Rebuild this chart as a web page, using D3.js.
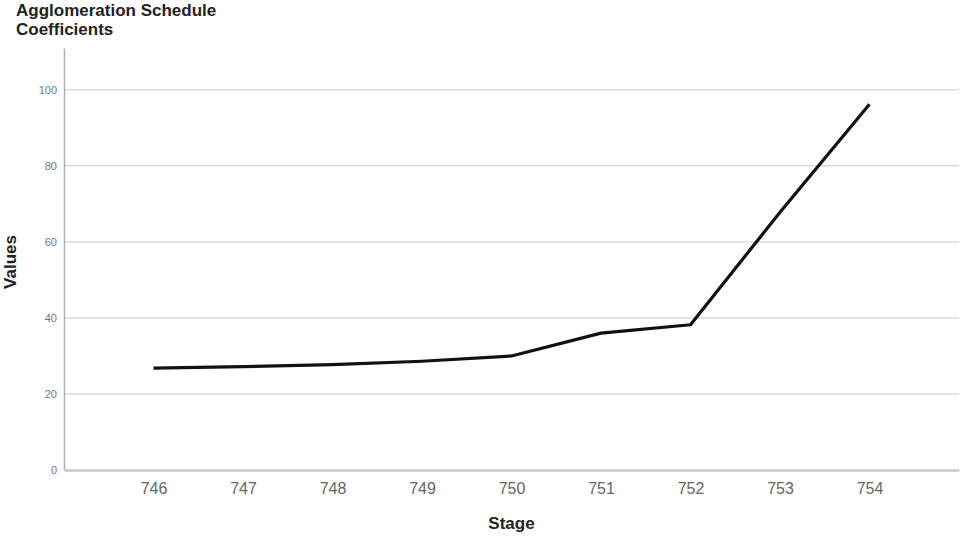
<!DOCTYPE html>
<html>
<head>
<meta charset="utf-8">
<script src="https://cdn.jsdelivr.net/npm/d3@7"></script>
<style>
  body { margin: 0; background: #fff; }
  svg { display: block; font-family: "Liberation Sans", Arial, sans-serif; }
</style>
</head>
<body>
<svg id="chart" width="961" height="539"></svg>
<script>
// chart data
const stages = ['746', '747', '748', '749', '750', '751', '752', '753', '754'];
const coefficients = [26.8, 27.2, 27.7, 28.6, 30.0, 36.0, 38.2, 67.8, 96.2];
const yTicks = [0, 20, 40, 60, 80, 100];

const svg = d3.select('#chart');
const margin = {top: 48, right: 2, bottom: 69, left: 64};
const width = 961 - margin.left - margin.right;
const height = 539 - margin.top - margin.bottom;

const x = d3.scalePoint()
    .domain(stages)
    .range([0, width])
    .padding(1);

const y = d3.scaleLinear()
    .domain([0, 111])
    .range([height, 0]);

const g = svg.append('g')
    .attr('transform', `translate(${margin.left},${margin.top})`);

// gridlines
g.append('g')
    .selectAll('line')
    .data(yTicks.filter(d => d > 0))
    .join('line')
    .attr('x1', 0)
    .attr('x2', width)
    .attr('y1', d => y(d))
    .attr('y2', d => y(d))
    .attr('stroke', '#d9d9d9')
    .attr('stroke-width', 1.5);

// y axis
const yAxis = g.append('g')
    .call(d3.axisLeft(y).tickValues(yTicks).tickSize(0).tickPadding(7));
yAxis.select('.domain').attr('stroke', '#b0b0b0').attr('stroke-width', 1.5);
yAxis.selectAll('text')
    .attr('fill', '#777')
    .style('font-size', '11px');

// x axis
const xAxis = g.append('g')
    .attr('transform', `translate(0,${height})`)
    .call(d3.axisBottom(x).tickSize(0).tickPadding(13));
xAxis.select('.domain').attr('stroke', '#c8c8c8').attr('stroke-width', 2.5);
xAxis.selectAll('text')
    .attr('fill', '#666')
    .style('font-size', '16px');

// line
const line = d3.line()
    .x((d, i) => x(stages[i]))
    .y(d => y(d));

g.append('path')
    .datum(coefficients)
    .attr('fill', 'none')
    .attr('stroke', '#111')
    .attr('stroke-width', 3.2)
    .attr('stroke-linejoin', 'round')
    .attr('d', line);

// titles
svg.append('text')
    .attr('x', 16)
    .attr('y', 16)
    .attr('font-weight', 'bold')
    .attr('font-size', '17px')
    .attr('fill', '#222')
    .text('Agglomeration Schedule');

svg.append('text')
    .attr('x', 16)
    .attr('y', 35)
    .attr('font-weight', 'bold')
    .attr('font-size', '17px')
    .attr('fill', '#222')
    .text('Coefficients');

svg.append('text')
    .attr('transform', 'translate(16,262) rotate(-90)')
    .attr('text-anchor', 'middle')
    .attr('font-weight', 'bold')
    .attr('font-size', '17px')
    .attr('fill', '#222')
    .text('Values');

svg.append('text')
    .attr('x', margin.left + x('750'))
    .attr('y', 529)
    .attr('text-anchor', 'middle')
    .attr('font-weight', 'bold')
    .attr('font-size', '17px')
    .attr('fill', '#222')
    .text('Stage');
</script>
</body>
</html>
